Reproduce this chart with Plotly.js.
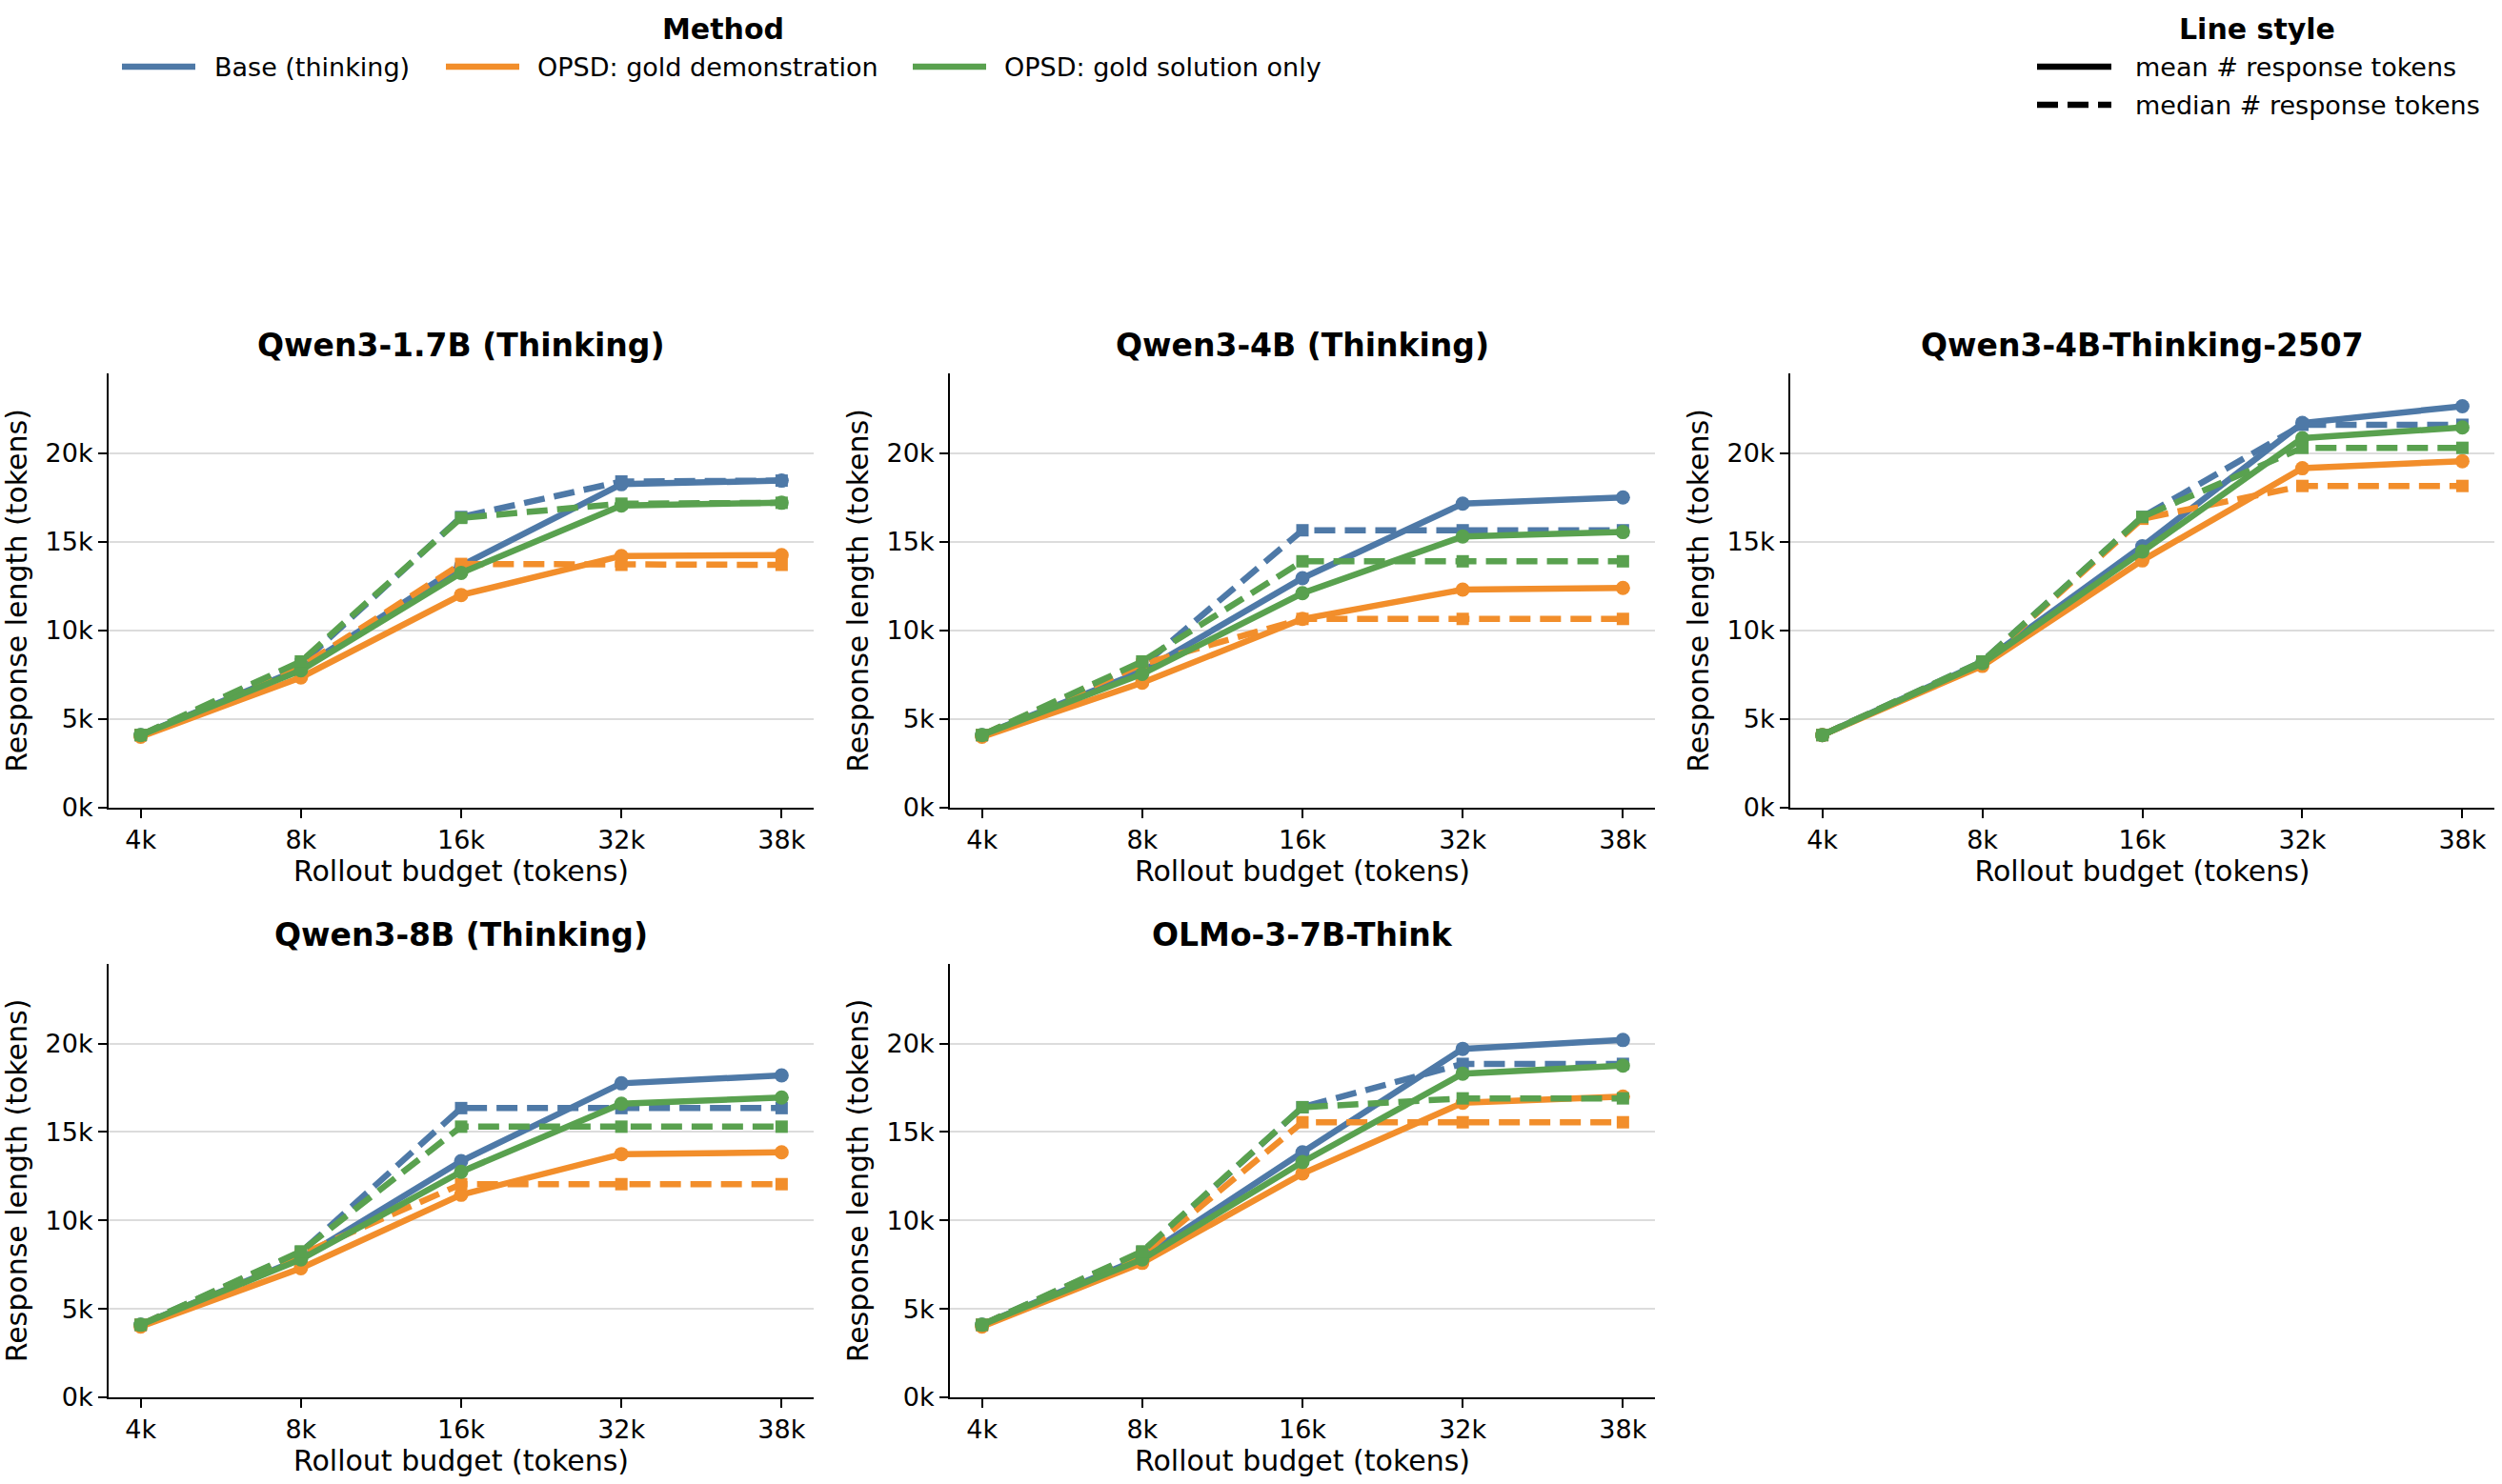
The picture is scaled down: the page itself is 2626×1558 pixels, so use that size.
<!DOCTYPE html>
<html>
<head>
<meta charset="utf-8">
<script src="https://cdn.plot.ly/plotly-3.0.1.min.js"></script>
<style>html,body{margin:0;padding:0;background:#fff;} #chart{width:2626px;height:1558px;}</style>
</head>
<body>
<div id="chart"></div>
<script>
// ---------- data ----------
const budgets = ['4k', '8k', '16k', '32k', '38k'];
const panelTitles = ['Qwen3-1.7B (Thinking)', 'Qwen3-4B (Thinking)', 'Qwen3-4B-Thinking-2507', 'Qwen3-8B (Thinking)', 'OLMo-3-7B-Think'];
const methodNames = ['Base (thinking)', 'OPSD: gold demonstration', 'OPSD: gold solution only'];
const methodColors = ['#4E79A7', '#F28E2B', '#59A14F'];
const yTickVals = [0, 5000, 10000, 15000, 20000];
const yTickText = ['0k', '5k', '10k', '15k', '20k'];

// Qwen3-1.7B (Thinking)
const q17_base_mean   = [4100, 7850, 13650, 18250, 18450];
const q17_base_median = [4100, 8100, 16400, 18400, 18450];
const q17_demo_mean   = [4000, 7350, 12000, 14200, 14250];
const q17_demo_median = [4100, 7950, 13750, 13700, 13700];
const q17_sol_mean    = [4100, 7750, 13250, 17050, 17200];
const q17_sol_median  = [4100, 8250, 16350, 17150, 17200];

// Qwen3-4B (Thinking)
const q4_base_mean   = [4100, 7700, 12950, 17150, 17500];
const q4_base_median = [4100, 8000, 15650, 15650, 15650];
const q4_demo_mean   = [4000, 7050, 10650, 12300, 12400];
const q4_demo_median = [4100, 8100, 10650, 10650, 10650];
const q4_sol_mean    = [4100, 7550, 12100, 15300, 15550];
const q4_sol_median  = [4100, 8250, 13900, 13900, 13900];

// Qwen3-4B-Thinking-2507
const q4t_base_mean   = [4100, 8200, 14750, 21700, 22650];
const q4t_base_median = [4100, 8250, 16400, 21600, 21600];
const q4t_demo_mean   = [4100, 8000, 13950, 19150, 19550];
const q4t_demo_median = [4100, 8200, 16300, 18150, 18150];
const q4t_sol_mean    = [4100, 8150, 14450, 20850, 21450];
const q4t_sol_median  = [4100, 8250, 16400, 20300, 20300];

// Qwen3-8B (Thinking)
const q8_base_mean   = [4100, 7850, 13350, 17750, 18200];
const q8_base_median = [4100, 8200, 16350, 16350, 16350];
const q8_demo_mean   = [4000, 7300, 11450, 13750, 13850];
const q8_demo_median = [4100, 8050, 12050, 12050, 12050];
const q8_sol_mean    = [4100, 7800, 12750, 16600, 16950];
const q8_sol_median  = [4100, 8250, 15300, 15300, 15300];

// OLMo-3-7B-Think
const olmo_base_mean   = [4100, 7900, 13850, 19700, 20200];
const olmo_base_median = [4100, 8200, 16400, 18850, 18850];
const olmo_demo_mean   = [4000, 7600, 12650, 16650, 17000];
const olmo_demo_median = [4100, 8050, 15550, 15550, 15550];
const olmo_sol_mean    = [4100, 7800, 13300, 18300, 18750];
const olmo_sol_median  = [4100, 8250, 16400, 16900, 16900];

const panelMeans = [
  [q17_base_mean, q17_demo_mean, q17_sol_mean],
  [q4_base_mean, q4_demo_mean, q4_sol_mean],
  [q4t_base_mean, q4t_demo_mean, q4t_sol_mean],
  [q8_base_mean, q8_demo_mean, q8_sol_mean],
  [olmo_base_mean, olmo_demo_mean, olmo_sol_mean]
];
const panelMedians = [
  [q17_base_median, q17_demo_median, q17_sol_median],
  [q4_base_median, q4_demo_median, q4_sol_median],
  [q4t_base_median, q4t_demo_median, q4t_sol_median],
  [q8_base_median, q8_demo_median, q8_sol_median],
  [olmo_base_median, olmo_demo_median, olmo_sol_median]
];

// ---------- layout geometry (pixels of 2626x1558 canvas) ----------
const W = 2626, H = 1558;
const colX = [[114, 854], [997, 1737], [1879, 2618]];
const rowY = [[392, 848], [1012, 1467]];
const titleY = [363, 981];
const FONT = 'DejaVu Sans, Arial, sans-serif';

const traces = [];
const layout = {
  width: W, height: H,
  margin: {l: 0, r: 0, t: 0, b: 0},
  paper_bgcolor: '#ffffff', plot_bgcolor: '#ffffff',
  showlegend: false,
  font: {family: FONT, size: 27, color: '#000'},
  annotations: [], shapes: []
};

for (let p = 0; p < 5; p++) {
  const r = Math.floor(p / 3), c = p % 3;
  const idx = p + 1;
  const xa = 'x' + (idx === 1 ? '' : idx), ya = 'y' + (idx === 1 ? '' : idx);
  const xk = 'xaxis' + (idx === 1 ? '' : idx), yk = 'yaxis' + (idx === 1 ? '' : idx);
  layout[xk] = {
    domain: [colX[c][0] / W, colX[c][1] / W],
    anchor: ya, type: 'category', range: [-0.2, 4.2],
    showline: true, linecolor: '#000', linewidth: 2,
    ticks: 'outside', ticklen: 9, tickwidth: 2, tickcolor: '#000',
    showgrid: false, zeroline: false,
    tickfont: {size: 27, family: FONT},
    title: {text: 'Rollout budget (tokens)', font: {size: 30, family: FONT}, standoff: 8}
  };
  layout[yk] = {
    domain: [1 - rowY[r][1] / H, 1 - rowY[r][0] / H],
    anchor: xa, range: [0, 24500],
    tickvals: yTickVals, ticktext: yTickText,
    showline: true, linecolor: '#000', linewidth: 2,
    ticks: 'outside', ticklen: 9, tickwidth: 2, tickcolor: '#000',
    showgrid: true, gridcolor: '#dcdcdc', gridwidth: 2, zeroline: false,
    tickfont: {size: 27, family: FONT},
    title: {text: 'Response length (tokens)', font: {size: 30, family: FONT}, standoff: 10}
  };
  layout.annotations.push({
    text: '<b>' + panelTitles[p] + '</b>', xref: 'paper', yref: 'paper',
    x: (colX[c][0] + colX[c][1]) / 2 / W, y: 1 - titleY[r] / H,
    xanchor: 'center', yanchor: 'middle', showarrow: false,
    font: {size: 33, family: FONT, color: '#000'}
  });
  for (let m = 0; m < 3; m++) {
    traces.push({
      x: budgets, y: panelMeans[p][m], xaxis: xa, yaxis: ya,
      type: 'scatter', mode: 'lines+markers', name: methodNames[m] + ' mean',
      line: {color: methodColors[m], width: 6.5},
      marker: {color: methodColors[m], size: 15, symbol: 'circle'},
      cliponaxis: false
    });
    traces.push({
      x: budgets, y: panelMedians[p][m], xaxis: xa, yaxis: ya,
      type: 'scatter', mode: 'lines+markers', name: methodNames[m] + ' median',
      line: {color: methodColors[m], width: 6.5, dash: '22px,10px'},
      marker: {color: methodColors[m], size: 13, symbol: 'square'},
      cliponaxis: false
    });
  }
}

// ---------- legends (drawn as paper-space decorations) ----------
function px(x) { return x / W; }
function py(y) { return 1 - y / H; }
layout.annotations.push({text: '<b>Method</b>', xref: 'paper', yref: 'paper', x: px(759), y: py(30),
  xanchor: 'center', yanchor: 'middle', showarrow: false, font: {size: 30, family: FONT}});
const legX = [[128, 205, 223], [468, 545, 562], [958, 1035, 1052]];
for (let m = 0; m < 3; m++) {
  layout.shapes.push({type: 'line', xref: 'paper', yref: 'paper', x0: px(legX[m][0]), x1: px(legX[m][1]),
    y0: py(70), y1: py(70), line: {color: methodColors[m], width: 6.5}});
  layout.annotations.push({text: methodNames[m], xref: 'paper', yref: 'paper', x: px(legX[m][2]), y: py(70),
    xanchor: 'left', yanchor: 'middle', showarrow: false, font: {size: 27, family: FONT}});
}
layout.annotations.push({text: '<b>Line style</b>', xref: 'paper', yref: 'paper', x: px(2369), y: py(30),
  xanchor: 'center', yanchor: 'middle', showarrow: false, font: {size: 30, family: FONT}});
const styleNames = ['mean # response tokens', 'median # response tokens'];
const styleDash = ['solid', '22px,10px'];
const styleY = [70, 110];
for (let s = 0; s < 2; s++) {
  layout.shapes.push({type: 'line', xref: 'paper', yref: 'paper', x0: px(2138), x1: px(2216),
    y0: py(styleY[s]), y1: py(styleY[s]), line: {color: '#000', width: 6.5, dash: styleDash[s]}});
  layout.annotations.push({text: styleNames[s], xref: 'paper', yref: 'paper', x: px(2239), y: py(styleY[s]),
    xanchor: 'left', yanchor: 'middle', showarrow: false, font: {size: 27, family: FONT}});
}

Plotly.newPlot('chart', traces, layout, {staticPlot: true, displayModeBar: false});
</script>
</body>
</html>
